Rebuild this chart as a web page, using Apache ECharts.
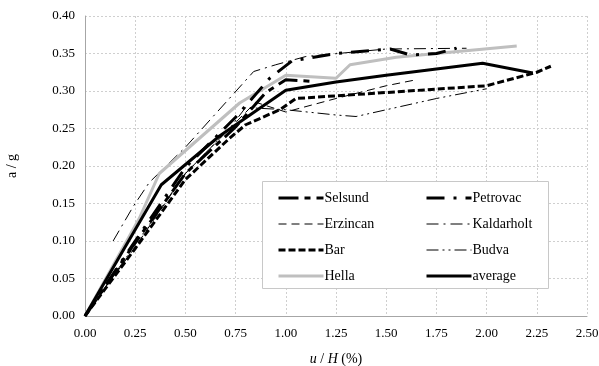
<!DOCTYPE html>
<html>
<head>
<meta charset="utf-8">
<script src="https://cdn.jsdelivr.net/npm/echarts@6/dist/echarts.min.js"></script>
<style>
  html, body { margin: 0; padding: 0; background: #fff; }
  #chart { width: 599px; height: 366px; }
</style>
</head>
<body>
<div id="chart"></div>
<script>
// Drift ratio u/H (%) against acceleration a/g for each record
const selsund    = [[0,0],[0.25,0.098],[0.5,0.19],[0.75,0.252],[0.9,0.298],[1.0,0.315],[1.12,0.313]];
const petrovac   = [[0,0],[0.25,0.1],[0.5,0.198],[0.75,0.265],[0.92,0.317],[1.03,0.34],[1.25,0.35],[1.52,0.356],[1.62,0.348],[1.75,0.35],[1.85,0.357]];
const erzincan   = [[0,0],[0.25,0.092],[0.5,0.19],[0.75,0.258],[0.85,0.285],[1.0,0.272],[1.25,0.29],[1.5,0.307],[1.65,0.315]];
const kaldarholt = [[0.14,0.1],[0.24,0.146],[0.32,0.178],[0.5,0.225],[0.84,0.326],[0.95,0.335],[1.1,0.346],[1.5,0.356],[1.9,0.357]];
const bar        = [[0,0],[0.25,0.09],[0.5,0.182],[0.72,0.237],[0.8,0.255],[0.97,0.275],[1.05,0.29],[1.5,0.298],[2.0,0.307],[2.25,0.325],[2.32,0.333]];
const budva      = [[0,0],[0.25,0.095],[0.5,0.19],[0.72,0.25],[0.8,0.278],[1.0,0.275],[1.25,0.268],[1.35,0.266],[1.5,0.275],[1.75,0.29],[2.0,0.303]];
const hella      = [[0,0],[0.27,0.13],[0.37,0.19],[0.77,0.284],[1.0,0.321],[1.25,0.317],[1.32,0.335],[1.55,0.345],[2.15,0.36]];
const average    = [[0,0],[0.38,0.175],[0.67,0.24],[1.0,0.301],[1.25,0.312],[1.5,0.321],[1.98,0.337],[2.23,0.324]];

const xTicks = { min: 0, max: 2.5, step: 0.25 };
const yTicks = { min: 0, max: 0.4, step: 0.05 };

const serif = 'Liberation Serif';

// Line look per record: colour, width, dash pattern
const styles = {
  Selsund:    { color: '#000',    width: 3, dash: [20, 6, 6, 6] },
  Petrovac:   { color: '#000',    width: 3, dash: [18, 9, 3, 9] },
  Erzincan:   { color: '#000',    width: 1, dash: [8, 5] },
  Kaldarholt: { color: '#000',    width: 1, dash: [12, 5, 2, 5] },
  Bar:        { color: '#000',    width: 3, dash: [7, 3] },
  Budva:      { color: '#000',    width: 1, dash: [12, 4, 2, 4, 2, 4] },
  Hella:      { color: '#bfbfbf', width: 3, dash: 'solid' },
  average:    { color: '#000',    width: 3, dash: 'solid' }
};

function line(name, data) {
  const s = styles[name];
  return {
    name, type: 'line', data,
    symbol: 'none', smooth: false,
    lineStyle: { color: s.color, width: s.width, type: s.dash, cap: 'butt' },
    itemStyle: { color: s.color },
    emphasis: { disabled: true }
  };
}

function legendItem(name) {
  const s = styles[name];
  return { name, lineStyle: { color: s.color, width: s.width, type: s.dash, cap: 'butt' } };
}

const chart = echarts.init(document.getElementById('chart'), null, { renderer: 'canvas' });

const legendCommon = {
  orient: 'vertical',
  top: 191,
  padding: 0,
  itemWidth: 45,
  itemHeight: 14,
  itemGap: 12,
  itemStyle: { opacity: 0 },
  textStyle: { fontFamily: serif, fontSize: 14, lineHeight: 14, color: '#000', padding: [0, 0, 0, -4] },
  inactiveColor: '#000',
  selectedMode: false
};

chart.setOption({
  animation: false,
  backgroundColor: '#fff',
  grid: { left: 85, right: 12, top: 16, bottom: 50, containLabel: false, outerBoundsMode: 'none' },
  xAxis: {
    type: 'value', min: xTicks.min, max: xTicks.max, interval: xTicks.step,
    name: '{i|u} / {i|H} (%)', nameLocation: 'middle', nameGap: 36,
    nameTextStyle: {
      fontFamily: serif, fontSize: 14, color: '#000',
      rich: { i: { fontFamily: serif, fontSize: 14, fontStyle: 'italic', color: '#000' } }
    },
    axisLine: { lineStyle: { color: '#a6a6a6', width: 1 } },
    axisTick: { show: false },
    axisLabel: { fontFamily: serif, fontSize: 13, color: '#000', margin: 11, formatter: v => v.toFixed(2) },
    splitLine: { show: true, lineStyle: { color: '#cfcfcf', type: [2, 2], width: 1 } }
  },
  yAxis: {
    type: 'value', min: yTicks.min, max: yTicks.max, interval: yTicks.step,
    name: 'a / g', nameLocation: 'middle', nameGap: 66, nameRotate: 90,
    nameTextStyle: { fontFamily: serif, fontSize: 14, color: '#000' },
    axisLine: { show: true, lineStyle: { color: '#a6a6a6', width: 1 } },
    axisTick: { show: false },
    axisLabel: { fontFamily: serif, fontSize: 13, color: '#000', margin: 10, formatter: v => v.toFixed(2) },
    splitLine: { show: true, lineStyle: { color: '#cfcfcf', type: [2, 2], width: 1 } }
  },
  graphic: [{
    type: 'rect', z: 3,
    shape: { x: 262.5, y: 181.5, width: 286, height: 107 },
    style: { fill: '#fff', stroke: '#c8c8c8', lineWidth: 1 }
  }],
  legend: [
    Object.assign({ left: 277, data: ['Selsund', 'Erzincan', 'Bar', 'Hella'].map(legendItem) }, legendCommon),
    Object.assign({ left: 425, data: ['Petrovac', 'Kaldarholt', 'Budva', 'average'].map(legendItem) }, legendCommon)
  ],
  series: [
    line('Budva', budva),
    line('Kaldarholt', kaldarholt),
    line('Erzincan', erzincan),
    line('Bar', bar),
    line('Hella', hella),
    line('Selsund', selsund),
    line('Petrovac', petrovac),
    line('average', average)
  ]
});
</script>
</body>
</html>
